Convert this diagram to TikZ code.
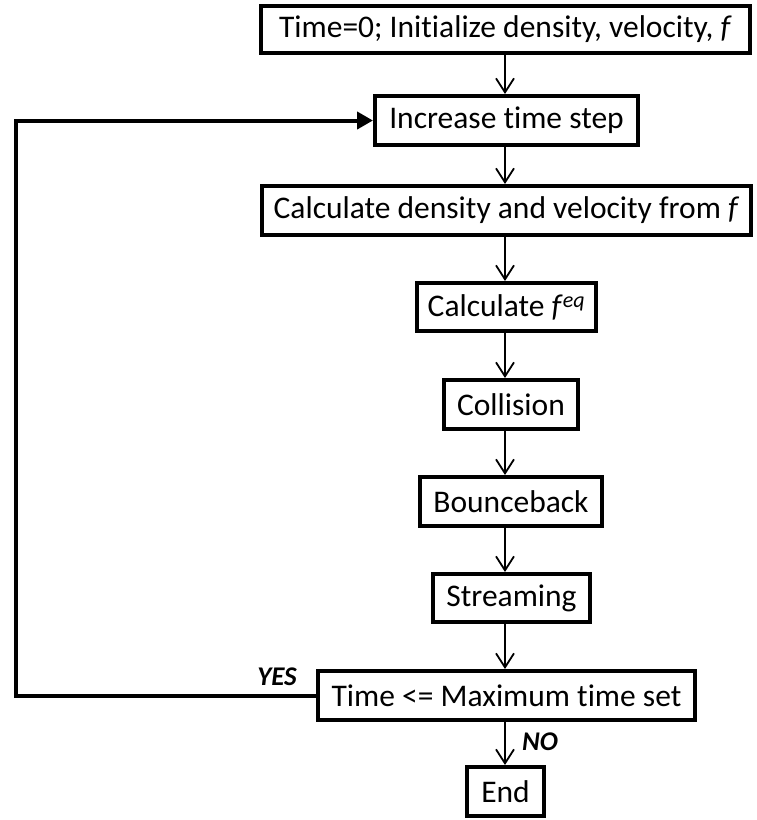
\documentclass[tikz,border=0pt]{standalone}
\usepackage{fontspec}
\setmainfont{Carlito}[Ligatures=NoCommon]
\usetikzlibrary{arrows.meta}
\tikzset{
  box/.style={draw, line width=4pt, inner sep=0pt, anchor=center, align=center,
    font=\fontsize{31.5}{36}\selectfont},
  arr/.style={line width=1.8pt, -{Straight Barb[length=14pt,width=18pt,line width=1.8pt]}},
  loop/.style={line width=4pt, -{Triangle[length=16pt,width=17pt]}},
  lab/.style={font=\fontsize{27}{30}\selectfont\bfseries\itshape, inner sep=0pt}
}
\begin{document}
\begin{tikzpicture}[x=1pt,y=-1pt]
\useasboundingbox (0,0) rectangle (756,820);
\fill[white] (0,0) rectangle (756,820);
\coordinate (ax) at (505,0);
\coordinate (lx) at (16,0);
\node[box, minimum width=489pt, minimum height=47pt] (b1) at (505.5,29.5) {Time=0; Initialize density, velocity, \textit{f}};
\node[box, minimum width=263pt, minimum height=49pt] (b2) at (506.5,120.5) {Increase time step};
\node[box, minimum width=489pt, minimum height=49pt] (b3) at (506.5,210.5) {Calculate density and velocity from \textit{f}};
\node[box, minimum width=179pt, minimum height=48pt] (b4) at (506.5,307) {Calculate \textit{f}\textsuperscript{\itshape eq}};
\node[box, minimum width=134pt, minimum height=49pt] (b5) at (511,404.5) {Collision};
\node[box, minimum width=182pt, minimum height=49pt] (b6) at (511,501.5) {Bounceback};
\node[box, minimum width=157pt, minimum height=48pt] (b7) at (511.5,598) {Streaming};
\node[box, minimum width=377pt, minimum height=49pt] (b8) at (506.5,695.5) {Time {<}= Maximum time set};
\node[box, minimum width=77pt, minimum height=49pt] (b9) at (505.5,791.5) {End};
\draw[arr] (b1.south -| ax) -- (b2.north -| ax);
\draw[arr] (b2.south -| ax) -- (b3.north -| ax);
\draw[arr] (b3.south -| ax) -- (b4.north -| ax);
\draw[arr] (b4.south -| ax) -- (b5.north -| ax);
\draw[arr] (b5.south -| ax) -- (b6.north -| ax);
\draw[arr] (b6.south -| ax) -- (b7.north -| ax);
\draw[arr] (b7.south -| ax) -- (b8.north -| ax);
\draw[arr] (b8.south -| ax) -- (b9.north -| ax);
\draw[loop] (b8.west) -- (b8.west -| lx) -- (b2.west -| lx) -- (b2.west);
\node[lab] (yes) at (277,677) {YES};
\node[lab] (no) at (540,742) {NO};
\end{tikzpicture}
\end{document}
